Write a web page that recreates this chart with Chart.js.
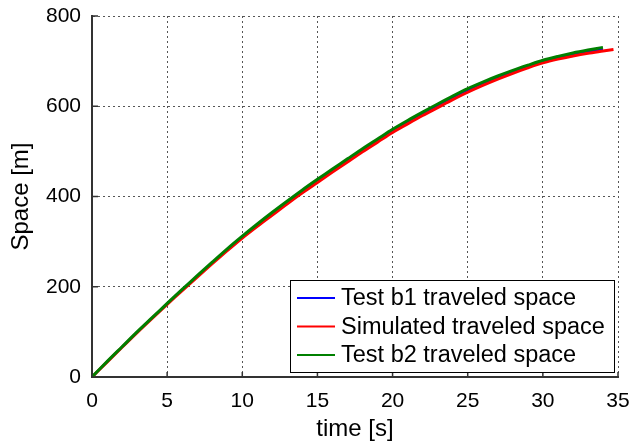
<!DOCTYPE html>
<html>
<head>
<meta charset="utf-8">
<script src="https://cdn.jsdelivr.net/npm/chart.js@4/dist/chart.umd.min.js"></script>
<style>
  html, body { margin: 0; padding: 0; background: #fff; }
  #wrap { width: 630px; height: 444px; }
</style>
</head>
<body>
<div id="wrap"><canvas id="spaceChart"></canvas></div>
<script>
// time [s] / space [m]
const timeSim  = [0,1,2,3,4,5,6,7,8,9,10,11,12,13,14,15,16,17,18,19,20,21,22,23,24,25,26,27,28,29,30,31,32,33,34,34.7];
const spaceSim = [0,33,66,98.5,130,161,191.5,221.5,251,280,308,334,359,384,408,431,454,476.5,499,520.5,542,561,579.5,597,614.5,631,646,660,673,685,696,704.5,711.5,717.5,722.5,726];

const timeB1  = [0,1,2,3,4,5,6,7,8,9,10,11,12,13,14,15,16,17,18,19,20,21,22,23,24,25,26,27,28,29,30,31,32,33,34];
const spaceB1 = [0,33.5,66.5,99,131,162,193,223,253,282,310,337,362,387,411,434.5,457.5,480,502.5,524,545.5,565,583.5,601,618.5,635,650,663.5,676,688,699,707.5,714.5,721,726.5];

const timeB2  = [0,1,2,3,4,5,6,7,8,9,10,11,12,13,14,15,16,17,18,19,20,21,22,23,24,25,26,27,28,29,30,31,32,33,34];
const spaceB2 = [0,34,67,100,131.5,163,194,224.5,254.5,284,312,339,365,390,414.5,438,461,483.5,506,527.5,549,568.5,587,605,622.5,639,653.5,667,679.5,691,702,710.5,718,724.5,730.5];

const xTicks = [0,5,10,15,20,25,30,35];
const yTicks = [0,200,400,600,800];

const FONT = 'Arial, "Liberation Sans", sans-serif';

const toPoints = (ts, vs) => ts.map((t, i) => ({ x: t, y: vs[i] }));

// matlab style inward tick marks on left and bottom axis
const innerTicks = {
    id: 'innerTicks',
    afterDraw(chart) {
        const { ctx, chartArea, scales } = chart;
        ctx.save();
        ctx.strokeStyle = '#333';
        ctx.lineWidth = 1.5;
        ctx.beginPath();
        xTicks.forEach(v => {
            const px = scales.x.getPixelForValue(v);
            ctx.moveTo(px, chartArea.bottom);
            ctx.lineTo(px, chartArea.bottom - 5);
        });
        yTicks.forEach(v => {
            const py = scales.y.getPixelForValue(v);
            ctx.moveTo(chartArea.left, py);
            ctx.lineTo(chartArea.left + 6, py);
        });
        ctx.stroke();
        ctx.restore();
    }
};

// legend box inside the plot, bottom right
const boxLegend = {
    id: 'boxLegend',
    afterDraw(chart) {
        const { ctx, chartArea } = chart;
        const sets = chart.data.datasets;
        const w = 324, rowH = 28.5, h = 92;
        const x0 = chartArea.right - 4 - w;
        const y0 = chartArea.bottom - 5 - h;
        ctx.save();
        ctx.fillStyle = '#fff';
        ctx.fillRect(x0, y0, w, h);
        ctx.strokeStyle = '#000';
        ctx.lineWidth = 1;
        ctx.strokeRect(x0 + 0.5, y0 + 0.5, w, h);
        ctx.font = '23.5px ' + FONT;
        ctx.textBaseline = 'middle';
        ctx.fillStyle = '#000';
        sets.forEach((ds, i) => {
            const cy = y0 + 18 + i * rowH;
            ctx.strokeStyle = ds.borderColor;
            ctx.lineWidth = 2;
            ctx.beginPath();
            ctx.moveTo(x0 + 7, cy);
            ctx.lineTo(x0 + 45, cy);
            ctx.stroke();
            ctx.fillText(ds.label, x0 + 51, cy + 1);
        });
        ctx.restore();
    }
};

const gridStyle = { color: '#555', lineWidth: 1, drawTicks: false };
const borderStyle = { display: true, color: '#333', width: 2, dash: [2, 3] };

new Chart(document.getElementById('spaceChart'), {
    type: 'line',
    data: {
        datasets: [
            { label: 'Test b1 traveled space', data: toPoints(timeB1, spaceB1), borderColor: '#0000ff', borderWidth: 2, order: 2 },
            { label: 'Simulated traveled space', data: toPoints(timeSim, spaceSim), borderColor: '#ff0000', borderWidth: 3, order: 1 },
            { label: 'Test b2 traveled space', data: toPoints(timeB2, spaceB2), borderColor: '#008000', borderWidth: 3, order: 0 }
        ]
    },
    options: {
        responsive: true,
        maintainAspectRatio: false,
        animation: false,
        layout: { padding: { top: 16, right: 12, left: 0, bottom: 0 } },
        elements: {
            point: { radius: 0 },
            line: { tension: 0.3, fill: false }
        },
        plugins: {
            legend: { display: false },
            tooltip: { enabled: false }
        },
        scales: {
            x: {
                type: 'linear',
                min: 0, max: 35,
                afterBuildTicks: s => { s.ticks = xTicks.map(v => ({ value: v })); },
                afterFit: s => { s.height = 67; s.paddingLeft = 0; s.paddingRight = 0; },
                ticks: { color: '#000', font: { size: 21, family: FONT }, padding: 12, maxRotation: 0 },
                grid: gridStyle,
                border: borderStyle,
                title: { display: true, text: 'time [s]', color: '#000', font: { size: 24, family: FONT }, padding: { top: 0, bottom: 0 } }
            },
            y: {
                type: 'linear',
                min: 0, max: 800,
                afterBuildTicks: s => { s.ticks = yTicks.map(v => ({ value: v })); },
                afterFit: s => { s.width = 92; s.paddingTop = 0; s.paddingBottom = 0; },
                ticks: { color: '#000', font: { size: 21, family: FONT }, padding: 11 },
                grid: gridStyle,
                border: borderStyle,
                title: { display: true, text: 'Space [m]', color: '#000', font: { size: 24, family: FONT }, padding: { top: 7, bottom: 0 } }
            }
        }
    },
    plugins: [innerTicks, boxLegend]
});
</script>
</body>
</html>
